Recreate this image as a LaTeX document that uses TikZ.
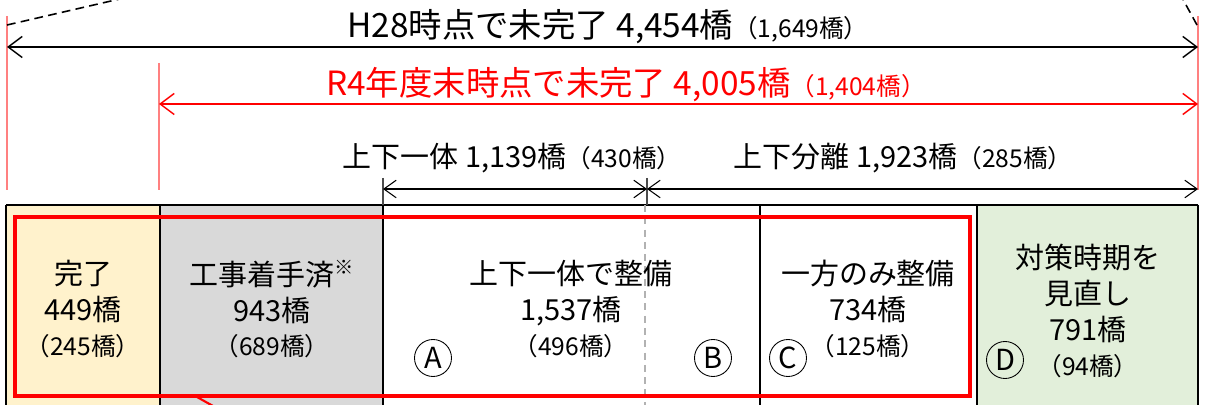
\documentclass[tikz,border=0pt]{standalone}
\usepackage{fontspec}
\setmainfont{Noto Sans CJK JP}
\usetikzlibrary{arrows.meta}
\definecolor{doneyellow}{HTML}{FFF2CC}
\definecolor{startgray}{HTML}{D9D9D9}
\definecolor{reviewgreen}{HTML}{E2EFDA}
\definecolor{guidered}{HTML}{FF8080}
\newcommand{\bigtxt}{\fontsize{19}{22}\selectfont}
\newcommand{\celltxt}{\fontsize{16.5}{19.5}\selectfont}
\newcommand{\subtxt}{\fontsize{14}{16}\selectfont}
\newcommand{\notemark}{\raisebox{0.7ex}{\fontsize{11}{12}\selectfont ※}}

\begin{document}
\begin{tikzpicture}[x=0.02cm,y=-0.02cm,
    spanarrow/.style={line width=0.8pt,
      {Straight Barb[length=8pt,width=12pt]}-{Straight Barb[length=8pt,width=12pt]}},
    subarrow/.style={line width=0.6pt,
      {Straight Barb[length=7pt,width=10pt]}-{Straight Barb[length=7pt,width=10pt]}},
    guide/.style={guidered,line width=0.7pt},
    toplabel/.style={inner sep=0pt,font=\bigtxt},
    midlabel/.style={inner sep=0pt,font=\celltxt},
    celllabel/.style={inner sep=0pt,align=center,font=\celltxt},
    letterring/.style={circle,draw,line width=0.5pt,inner sep=0pt,
      minimum size=0.74cm,font=\celltxt}]
  \useasboundingbox (0,0) rectangle (1215,405);
  \clip (0,0) rectangle (1215,405);

  % cells
  \fill[doneyellow] (6,205) rectangle (160,420);
  \fill[startgray] (160,205) rectangle (383,420);
  \fill[reviewgreen] (977,205) rectangle (1198,420);
  \draw[line width=0.9pt] (6,205) -- (1198,205);
  \foreach \xcol in {6,160,383,760,977,1198}
    \draw[line width=0.9pt] (\xcol,205) -- (\xcol,420);
  \draw[gray!60,line width=0.8pt,dash pattern=on 4pt off 3pt] (645,205) -- (645,420);

  % guide lines
  \draw[guide] (7,16) -- (7,190);
  \draw[guide] (159,63) -- (159,190);
  \draw[guide] (1198,16) -- (1198,190);
  \draw[black!70,line width=0.6pt] (383,178) -- (383,205);
  \draw[black!70,line width=0.6pt] (647,178) -- (647,205);
  \draw[dashed,line width=0.9pt,dash pattern=on 5pt off 3pt] (7,25) -- (137,-5);
  \draw[dashed,line width=0.9pt,dash pattern=on 5pt off 3pt] (1197,25) -- (1180,-6);

  % arrows
  \coordinate (h28L) at (7,47);
  \coordinate (h28R) at (1198,47);
  \coordinate (r4L) at (159,104);
  \coordinate (r4R) at (1198,104);
  \coordinate (oneL) at (383,189);
  \coordinate (mid) at (647,189);
  \coordinate (sepR) at (1198,189);
  \draw[spanarrow] (h28L) -- (h28R);
  \draw[spanarrow,red] (r4L) -- (r4R);
  \draw[subarrow] (oneL) -- (mid);
  \draw[subarrow] (mid) -- (sepR);

  \node[toplabel] (h28) at (608,27) {H28時点で未完了 4,454橋{\subtxt（1,649橋）}};
  \node[toplabel,red] (r4) at (626,85) {R4年度末時点で未完了 4,005橋{\subtxt（1,404橋）}};
  \node[midlabel] (one) at (512,158) {上下一体 1,139橋{\subtxt（430橋）}};
  \node[midlabel] (sep) at (903,158) {上下分離 1,923橋{\subtxt（285橋）}};

  % red frame
  \draw[red,line width=2.3pt] (15,217) rectangle (970,396);
  \draw[red,line width=1.2pt] (197,397) -- (222,411);

  % cell texts
  \node[celllabel] (done) at (83,309) {完了\\[1pt]449橋\\{\subtxt（245橋）}};
  \node[celllabel] (start) at (272,309) {工事着手済\notemark\\[1pt]943橋\\{\subtxt（689橋）}};
  \node[celllabel] (both) at (571,309) {上下一体で整備\\[1pt]1,537橋\\{\subtxt（496橋）}};
  \node[celllabel] (half) at (868,309) {一方のみ整備\\[1pt]734橋\\{\subtxt（125橋）}};
  \node[celllabel] (review) at (1088,311) {対策時期を\\[1pt]見直し\\[1pt]791橋\\{\subtxt（94橋）}};

  \node[letterring] (ca) at (433,358) {A};
  \node[letterring] (cb) at (713,358) {B};
  \node[letterring] (cc) at (788,358) {C};
  \node[letterring] (cd) at (1005,360) {D};
\end{tikzpicture}
\end{document}
